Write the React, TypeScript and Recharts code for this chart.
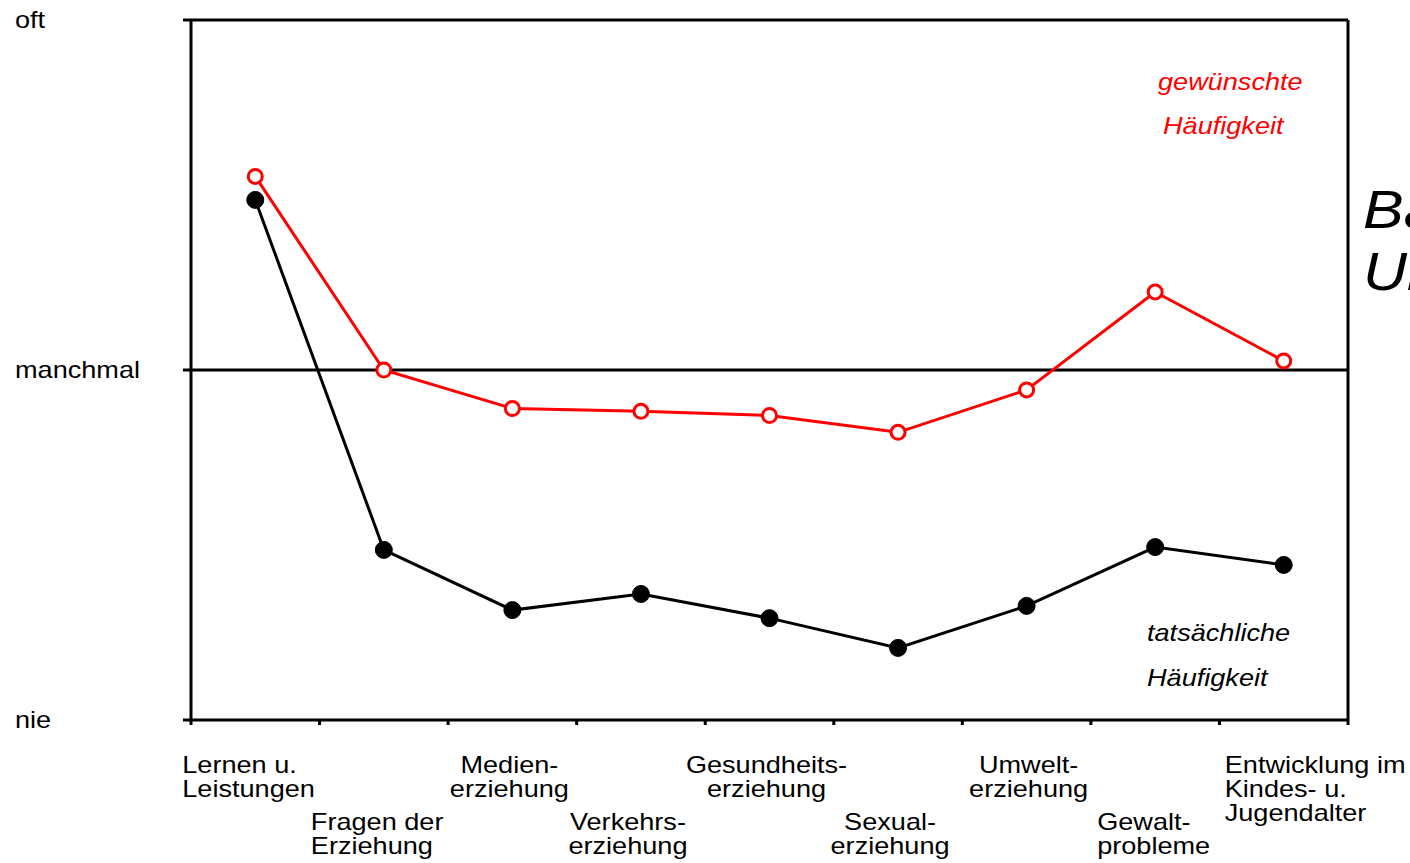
import React from 'react';
import { LineChart, Line, XAxis, YAxis, ReferenceLine, Customized } from 'recharts';

const categoryLines: string[][] = [
  ['Lernen u.', 'Leistungen'],
  ['Fragen der', 'Erziehung'],
  ['Medien-', 'erziehung'],
  ['Verkehrs-', 'erziehung'],
  ['Gesundheits-', 'erziehung'],
  ['Sexual-', 'erziehung'],
  ['Umwelt-', 'erziehung'],
  ['Gewalt-', 'probleme'],
  ['Entwicklung im', 'Kindes- u.', 'Jugendalter'],
];
const desired = [1.553, 1.0, 0.89, 0.882, 0.87, 0.822, 0.943, 1.223, 1.026];
const actual = [1.486, 0.486, 0.314, 0.36, 0.291, 0.206, 0.326, 0.494, 0.443];
const yTickValues = [0, 1, 2];
const yTickLabels = ['nie', 'manchmal', 'oft'];
const boundaryTicks = [0, 1, 2, 3, 4, 5, 6, 7, 8, 9];
const centerTicks = [0.5, 1.5, 2.5, 3.5, 4.5, 5.5, 6.5, 7.5, 8.5];

const data = categoryLines.map((lines, i) => ({
  x: i + 0.5,
  name: lines.join(' '),
  desired: desired[i],
  actual: actual[i],
}));

// label layout (style only)
const labelAnchor = ['start', 'start', 'middle', 'middle', 'middle', 'middle', 'middle', 'start', 'start'];
const labelDx = [-73, -73, -3, -13, -3, -8, 2, -58, -59];

const FONT = 'Liberation Sans, Arial, sans-serif';
const SX = 1.13;

const SText = ({ x, y, children, anchor = 'start', size = 24, fill = '#000', italic = false }: any) => (
  <text
    transform={`translate(${x},${y}) scale(${SX},1)`}
    textAnchor={anchor}
    fontFamily={FONT}
    fontSize={size}
    fontStyle={italic ? 'italic' : 'normal'}
    fill={fill}
  >
    {children}
  </text>
);

const CategoryTick = (props: any) => {
  const { x, y, index } = props;
  const lines = categoryLines[index] || [];
  const row = index % 2;
  const base = y + (row === 0 ? 43 : 100);
  return (
    <g>
      {lines.map((ln, k) => (
        <SText key={k} x={x + labelDx[index]} y={base + k * 24} anchor={labelAnchor[index]}>
          {ln}
        </SText>
      ))}
    </g>
  );
};

const YTick = (props: any) => {
  const { y, payload } = props;
  const idx = yTickValues.indexOf(payload.value);
  return (
    <SText x={15} y={y + 8}>
      {yTickLabels[idx]}
    </SText>
  );
};

const Annotations = () => (
  <g>
    <SText x={1158} y={90} size={24} fill="#ff0000" italic>gewünschte</SText>
    <SText x={1163} y={134} size={24} fill="#ff0000" italic>Häufigkeit</SText>
    <SText x={1147} y={641} size={24} italic>tatsächliche</SText>
    <SText x={1147} y={686} size={24} italic>Häufigkeit</SText>
    <SText x={1363} y={228} size={54} italic>Ba</SText>
    <SText x={1363} y={290} size={54} italic>Un</SText>
  </g>
);

export default function App() {
  return (
    <div style={{ position: 'absolute', left: 0, top: 0, width: 1410, height: 863, background: '#fff', overflow: 'hidden' }}>
      <LineChart
        width={1410}
        height={863}
        data={data}
        margin={{ top: 19, right: 60, left: 1, bottom: 0 }}
      >
        <XAxis
          xAxisId="top"
          orientation="top"
          type="number"
          dataKey="x"
          domain={[0, 9]}
          height={1}
          tick={false}
          tickLine={false}
          axisLine={{ stroke: '#000', strokeWidth: 3 }}
        />
        <XAxis
          xAxisId="aaa"
          type="number"
          dataKey="x"
          domain={[0, 9]}
          ticks={boundaryTicks}
          height={10}
          tickSize={5}
          tickFormatter={() => ''}
          tickLine={{ stroke: '#000', strokeWidth: 3 }}
          axisLine={{ stroke: '#000', strokeWidth: 3 }}
        />
        <XAxis
          xAxisId="zzz"
          type="number"
          dataKey="x"
          domain={[0, 9]}
          ticks={centerTicks}
          height={133}
          tickSize={0}
          tickMargin={0}
          tickLine={false}
          axisLine={false}
          tick={<CategoryTick />}
          interval={0}
        />
        <YAxis
          type="number"
          domain={[0, 2]}
          ticks={yTickValues}
          width={190}
          tickSize={8}
          interval={0}
          tick={<YTick />}
          tickLine={{ stroke: '#000', strokeWidth: 3 }}
          axisLine={{ stroke: '#000', strokeWidth: 3 }}
        />
        <YAxis
          yAxisId="right"
          orientation="right"
          type="number"
          domain={[0, 2]}
          width={2}
          tick={false}
          tickLine={false}
          axisLine={{ stroke: '#000', strokeWidth: 3 }}
        />
        <ReferenceLine y={1} xAxisId="zzz" stroke="#000" strokeWidth={3} />
        <Line
          xAxisId="zzz"
          type="linear"
          dataKey="actual"
          stroke="#000"
          strokeWidth={3}
          dot={{ r: 8.5, fill: '#000', stroke: '#000', strokeWidth: 1 }}
          isAnimationActive={false}
        />
        <Line
          xAxisId="zzz"
          type="linear"
          dataKey="desired"
          stroke="#ff0000"
          strokeWidth={3}
          dot={{ r: 7, fill: '#fff', stroke: '#ff0000', strokeWidth: 3 }}
          isAnimationActive={false}
        />
        <Customized component={Annotations} />
      </LineChart>
    </div>
  );
}
